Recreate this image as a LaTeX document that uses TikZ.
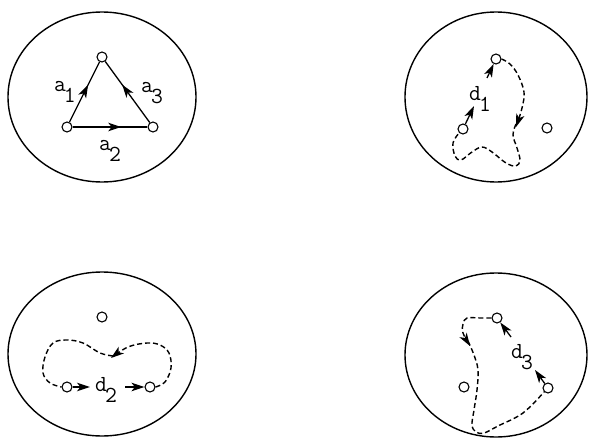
\documentclass[tikz,border=0pt]{standalone}
\usetikzlibrary{arrows.meta,decorations.markings}
\newcommand\lab[2]{#1\kern-2pt\raisebox{-11pt}{#2}}
\tikzset{
  region/.style={draw, line width=1.4pt},
  pt/.style={circle, draw, line width=1.1pt, minimum size=10pt, inner sep=0pt, fill=white},
  lbl/.style={font=\fontsize{23}{23}\selectfont\ttfamily, inner sep=1pt},
  edge/.style={line width=1.3pt},
  dpath/.style={line width=1.4pt, dash pattern=on 5pt off 3pt},
  atip/.tip={Stealth[length=13pt,width=8.5pt,inset=3.5pt]},
  midarrow/.style={postaction={decorate}, decoration={markings, mark=at position #1 with {\arrow{Stealth[length=13pt,width=8.5pt,inset=3.5pt]}}}}
}
\begin{document}
\begin{tikzpicture}[x=1pt,y=-1pt]
\useasboundingbox (0,0) rectangle (590,439);
% regions
\draw[region] (102,97) ellipse [x radius=94, y radius=85];
\draw[region] (496,97) ellipse [x radius=91, y radius=85];
\draw[region] (102,354) ellipse [x radius=94, y radius=82];
\draw[region] (496,355) ellipse [x radius=91, y radius=82];

% panel 1
\node[pt] (A1) at (102,57) {};
\node[pt] (A2) at (67,127) {};
\node[pt] (A3) at (153,127) {};
\draw[edge, midarrow=0.62] (A2) -- (A1);
\draw[edge, midarrow=0.65] (A2) -- (A3);
\draw[edge, midarrow=0.62] (A3) -- (A1);
\node[lbl] (la1) at (65,92) {\lab{a}{1}};
\node[lbl] (la3) at (152,93) {\lab{a}{3}};
\node[lbl] (la2) at (110,151) {\lab{a}{2}};

% panel 2
\node[pt] (B1) at (496,59) {};
\node[pt] (B2) at (463,129) {};
\node[pt] (B3) at (547,128) {};
\coordinate (d1a) at (474,106);
\coordinate (d1b) at (487,78);
\draw[edge, -atip] (B2) -- (d1a);
\draw[edge, -atip] (d1b) -- (B1);
\node[lbl] (ld1) at (480,99) {\lab{d}{1}};
\draw[dpath, -atip] plot[smooth, tension=0.6] coordinates {(B1.east) (510,64) (518,75) (524,92) (522,108) (516,127)};
\draw[dpath] plot[smooth, tension=0.6] coordinates {(516,124) (513,135) (517,148) (520,160) (516,166) (506,163) (492,152) (482,147) (472,152) (461,160) (455,156) (453,143) (B2.south west)};

% panel 3
\node[pt] (C1) at (102,317) {};
\node[pt] (C2) at (67,387) {};
\node[pt] (C3) at (150,387) {};
\coordinate (d2a) at (90,387);
\coordinate (d2b) at (125,387);
\draw[edge, -atip] (C2) -- (d2a);
\draw[edge, -atip] (d2b) -- (C3);
\node[lbl] (ld2) at (106,390) {\lab{d}{2}};
\draw[dpath, -atip] plot[smooth, tension=0.6] coordinates {(C3.east) (165,382) (171,368) (169,353) (160,345) (147,343) (128,347) (111,358)};
\draw[dpath] plot[smooth, tension=0.6] coordinates {(113,356) (100,353) (83,343) (67,340) (53,343) (45,357) (43,373) (50,383) (C2.west)};

% panel 4
\node[pt] (D1) at (497,318) {};
\node[pt] (D2) at (548,388) {};
\node[pt] (D3) at (464,387) {};
\coordinate (d3a) at (535,370);
\coordinate (d3b) at (511,337);
\draw[edge, -atip] (D2) -- (d3a);
\draw[edge, -atip] (d3b) -- (D1);
\node[lbl] (ld3) at (522,357) {\lab{d}{3}};
\draw[dpath, -atip] plot[smooth, tension=0.6] coordinates {(D1.west) (480,318) (467,318) (463,324) (463,333) (470,346)};
\draw[dpath] plot[smooth, tension=0.6] coordinates {(468,341) (474,355) (478,370) (477,390) (474,410) (472,425) (476,432) (484,433) (498,426) (523,413) (D2.south west)};
\end{tikzpicture}
\end{document}
